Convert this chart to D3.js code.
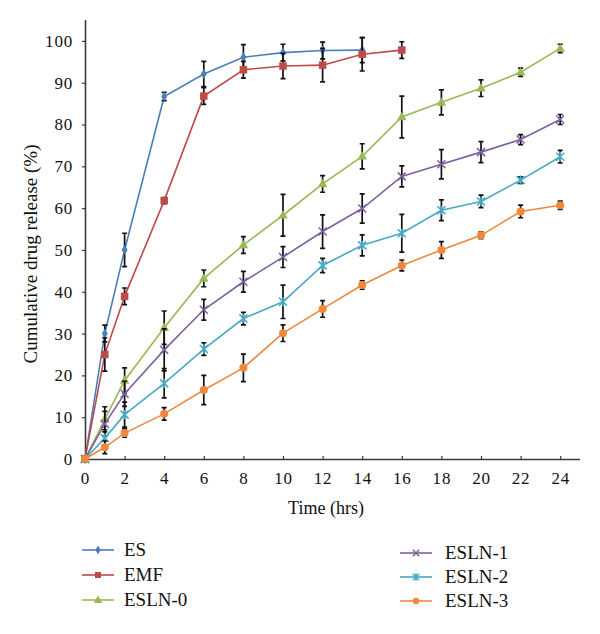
<!DOCTYPE html>
<html>
<head>
<meta charset="utf-8">
<script src="https://cdn.jsdelivr.net/npm/d3@7"></script>
<style>
  html, body { margin: 0; padding: 0; background: #fff; }
  svg { display: block; }
  text { font-family: 'Liberation Serif', 'Times New Roman', Times, 'DejaVu Serif', serif; fill: #111; }
</style>
</head>
<body>
<svg id="chart" width="600" height="634"></svg>
<script>
// ---- data ----
const times = [0, 1, 2, 4, 6, 8, 10, 12, 14, 16, 18, 20, 22, 24];
const xTicks = [0, 2, 4, 6, 8, 10, 12, 14, 16, 18, 20, 22, 24];
const yTicks = [0, 10, 20, 30, 40, 50, 60, 70, 80, 90, 100];

const esVals   = [0, 30, 50, 86.7, 92.1, 96.1, 97.2, 97.7, 97.8];
const esErr    = [0, 2, 4, 1, 3, 3, 2, 2, 3];
const emfVals  = [0, 25, 38.9, 61.8, 86.8, 93.1, 94, 94.2, 96.8, 97.8];
const emfErr   = [0, 4, 2, 0.7, 2, 2, 3, 4, 4, 2];
const esln0Vals = [0, 9.5, 18.8, 31.4, 43.2, 51.2, 58.3, 65.8, 72.4, 81.8, 85.3, 88.7, 92.5, 98.2];
const esln0Err  = [0, 3, 3, 4, 2, 2, 5, 2, 3, 5, 3, 2, 1, 1];
const esln1Vals = [0, 8.4, 15.6, 26.1, 35.7, 42.4, 48.3, 54.4, 59.9, 67.6, 70.5, 73.4, 76.4, 81.2];
const esln1Err  = [0, 3, 3, 5, 2.5, 2.5, 2.5, 4, 3.5, 2.5, 3.5, 2.5, 1.2, 1.2];
const esln2Vals = [0, 5, 10.6, 18.1, 26.3, 33.6, 37.6, 46.3, 51.1, 54, 59.5, 61.6, 66.7, 72.3];
const esln2Err  = [0, 2, 3, 3.5, 1.5, 1.5, 4, 1.7, 2.5, 4.5, 2.5, 1.5, 0.8, 1.5];
const esln3Vals = [0, 2.8, 6.2, 10.8, 16.5, 21.8, 30.1, 35.9, 41.6, 46.3, 50, 53.5, 59.2, 60.7];
const esln3Err  = [0, 1.5, 1, 1.5, 3.5, 3.3, 2, 2, 1, 1.3, 2, 0.8, 1.5, 1];

const seriesNames = ["ES", "EMF", "ESLN-0", "ESLN-1", "ESLN-2", "ESLN-3"];
const seriesColors = ["#4a7ebb", "#be4b48", "#98b954", "#7d60a0", "#46aac5", "#f0883c"];
const seriesMarkers = ["diamond", "square", "triangle", "cross", "asterisk", "circle"];
const seriesVals = [esVals, emfVals, esln0Vals, esln1Vals, esln2Vals, esln3Vals];
const seriesErr = [esErr, emfErr, esln0Err, esln1Err, esln2Err, esln3Err];

// ---- layout ----
const FONT = "'Liberation Serif', 'Times New Roman', Times, 'DejaVu Serif', serif";
const svg = d3.select("#chart");
const x = d3.scaleLinear().domain([0, 25]).range([85, 580]);
const y = d3.scaleLinear().domain([0, 105]).range([459, 20]);

// axes
const axisColor = "#3a3a3a";
const yAxis = svg.append("g").attr("transform", `translate(${x(0)},0)`)
  .call(d3.axisLeft(y).tickValues(yTicks).tickSize(3).tickPadding(9).tickFormat(d3.format("d")));
const xAxis = svg.append("g").attr("transform", `translate(0,${y(0)})`)
  .call(d3.axisBottom(x).tickValues(xTicks).tickSize(-3).tickPadding(13).tickFormat(d3.format("d")));
[yAxis, xAxis].forEach(g => {
  g.select(".domain").attr("stroke", axisColor).attr("stroke-width", 1.6);
  g.selectAll(".tick line").attr("stroke", axisColor).attr("stroke-width", 1.2);
  g.selectAll(".tick text").attr("font-family", FONT).attr("font-size", 17).attr("fill", "#111").attr("letter-spacing", 0.8);
});
xAxis.select(".domain").attr("d", `M${x(0)},0.5H${x(25)}`);
yAxis.select(".domain").attr("d", `M0.5,${y(0)}V${y(105)}`);

// axis titles
svg.append("text").attr("x", 326).attr("y", 514).attr("text-anchor", "middle")
  .attr("font-family", FONT).attr("font-size", 18).text("Time (hrs)");
svg.append("text").attr("transform", `translate(37,254) rotate(-90)`).attr("text-anchor", "middle")
  .attr("font-family", FONT).attr("font-size", 19).text("Cumulative drug release (%)");

// marker drawing
function drawMarker(g, type, color, cx, cy, scale) {
  const s = scale || 1;
  if (type === "diamond") {
    g.append("path").attr("d", d3.symbol(d3.symbolDiamond, 30 * s)()).attr("transform", `translate(${cx},${cy})`).attr("fill", color);
  } else if (type === "square") {
    const w = 7.5 * s;
    g.append("rect").attr("x", cx - w / 2).attr("y", cy - w / 2).attr("width", w).attr("height", w).attr("fill", color);
  } else if (type === "triangle") {
    g.append("path").attr("d", d3.symbol(d3.symbolTriangle, 40 * s)()).attr("transform", `translate(${cx},${cy + 0.5})`).attr("fill", color);
  } else if (type === "cross") {
    const r = 4 * s;
    g.append("path").attr("d", `M${cx - r},${cy - r}L${cx + r},${cy + r}M${cx - r},${cy + r}L${cx + r},${cy - r}`)
      .attr("stroke", color).attr("stroke-width", 1.5).attr("fill", "none");
  } else if (type === "asterisk") {
    const r = 4 * s;
    g.append("path").attr("d", `M${cx - r},${cy - r}L${cx + r},${cy + r}M${cx - r},${cy + r}L${cx + r},${cy - r}M${cx},${cy - r * 1.15}L${cx},${cy + r * 1.15}`)
      .attr("stroke", color).attr("stroke-width", 1.6).attr("fill", "none");
  } else if (type === "circle") {
    g.append("circle").attr("cx", cx).attr("cy", cy).attr("r", 4 * s).attr("fill", color);
  }
}

// series
const line = d3.line().x(d => x(d.t)).y(d => y(d.v));
seriesNames.forEach((name, i) => {
  const data = seriesVals[i].map((v, k) => ({ t: times[k], v: v, e: seriesErr[i][k] }));
  const g = svg.append("g");
  g.append("path").datum(data).attr("d", line).attr("fill", "none")
    .attr("stroke", seriesColors[i]).attr("stroke-width", 1.6);
  // error bars
  data.filter(d => d.e > 0).forEach(d => {
    const xx = x(d.t), y1 = y(d.v - d.e), y2 = y(d.v + d.e);
    g.append("path").attr("d", `M${xx},${y1}V${y2}M${xx - 2.5},${y1}H${xx + 2.5}M${xx - 2.5},${y2}H${xx + 2.5}`)
      .attr("stroke", "#111").attr("stroke-width", 1.7).attr("fill", "none");
  });
  data.forEach(d => drawMarker(g, seriesMarkers[i], seriesColors[i], x(d.t), y(d.v)));
});

// legend
const legendPos = [
  { lx: 82, tx: 124, y: 550 }, { lx: 82, tx: 124, y: 575 }, { lx: 82, tx: 124, y: 600 },
  { lx: 400, tx: 445, y: 553 }, { lx: 400, tx: 445, y: 577 }, { lx: 400, tx: 445, y: 601 }
];
seriesNames.forEach((name, i) => {
  const p = legendPos[i];
  const g = svg.append("g");
  g.append("line").attr("x1", p.lx).attr("x2", p.lx + 32).attr("y1", p.y).attr("y2", p.y)
    .attr("stroke", seriesColors[i]).attr("stroke-width", 1.6);
  drawMarker(g, seriesMarkers[i], seriesColors[i], p.lx + 16, p.y, 0.8);
  g.append("text").attr("x", p.tx).attr("y", p.y + 6).attr("font-family", FONT).attr("font-size", 19).text(name);
});
</script>
</body>
</html>
